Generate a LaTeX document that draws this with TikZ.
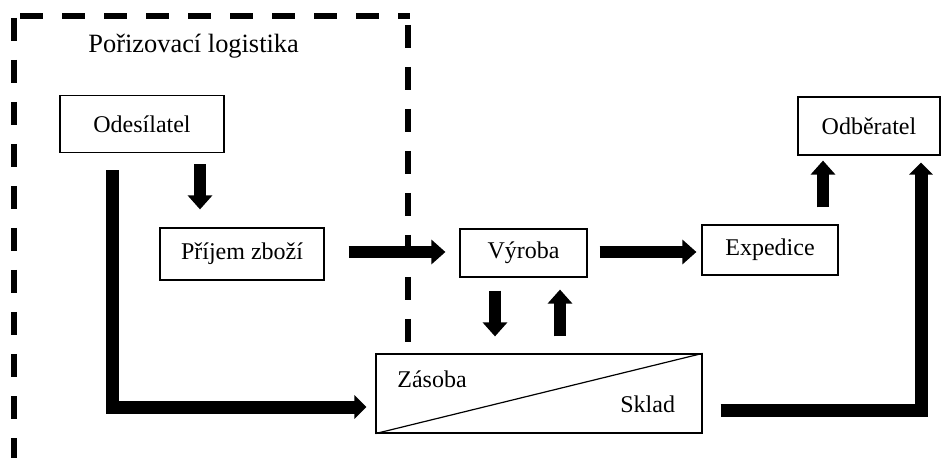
\documentclass[tikz,border=0pt]{standalone}
\usepackage{fontspec}
\setmainfont{Liberation Serif}
\usetikzlibrary{arrows.meta}
\begin{document}
\begin{tikzpicture}[x=0.5pt,y=-0.5pt,
  txt/.style={font=\fontsize{12pt}{14pt}\selectfont},
  box/.style={draw,line width=0.6pt,inner sep=0pt,txt},
  lbl/.style={inner sep=0pt,txt},
  arr/.style={line width=6pt,-{Triangle[width=12pt,length=7pt]}},
  bigarr/.style={line width=6.5pt,line join=miter,-{Triangle[width=11.5pt,length=6pt]}},
  frame/.style={line width=2.8pt,dash pattern=on 11.5pt off 9.5pt}]
\useasboundingbox (0,0) rectangle (944,460);

% dashed frame
\draw[frame] (14,18) -- (14,458);
\draw[frame] (20,16) -- (410,16);
\draw[frame] (408,25) -- (408,345);
\node[lbl,anchor=base west,font=\fontsize{13.2pt}{15pt}\selectfont] (title) at (88,53) {Pořizovací logistika};

% boxes
\node[box,minimum width=82pt,minimum height=28.5pt] (odes) at (142,124) {Odesílatel};
\node[box,minimum width=82pt,minimum height=26pt] (prijem) at (242,254) {Příjem zboží};
\node[box,minimum width=63.5pt,minimum height=24pt] (vyroba) at (523.5,253) {Výroba};
\node[box,minimum width=68pt,minimum height=25pt] (exped) at (770,250) {Expedice};
\node[box,minimum width=71pt,minimum height=29pt] (odber) at (869,126) {Odběratel};
\node[box,minimum width=163pt,minimum height=39.5pt] (zasoba) at (539,393.5) {};
\draw[line width=0.6pt] (zasoba.south west) -- (zasoba.north east);
\node[lbl,anchor=base west] (zlab) at (397,387) {Zásoba};
\node[lbl,anchor=base west] (slab) at (620,413) {Sklad};

% helper coordinates
\coordinate (xa) at (200,0);
\coordinate (ya) at (0,252);
\coordinate (xd) at (495,0);
\coordinate (xu) at (560,0);
\coordinate (xe) at (823,0);
\coordinate (k1) at (112,407);
\coordinate (k2) at (921,410);

% arrows
\draw[arr,shorten <=5.5pt,shorten >=9pt] (odes.south -| xa) -- (prijem.north -| xa);
\draw[arr,shorten <=12pt,shorten >=7pt] (prijem.east |- ya) -- (vyroba.west |- ya);
\draw[arr,shorten <=6pt,shorten >=2.5pt] (vyroba.east |- ya) -- (exped.west |- ya);
\draw[arr,shorten <=6.5pt,shorten >=8.5pt] (vyroba.south -| xd) -- (zasoba.north -| xd);
\draw[arr,shorten <=8.5pt,shorten >=6pt] (zasoba.north -| xu) -- (vyroba.south -| xu);
\draw[arr,shorten <=8.5pt,shorten >=2.5pt] (exped.north -| xe) -- (odber.south -| xe);
\draw[bigarr,shorten <=8.5pt,shorten >=4.5pt] (odes.south -| k1) -- (k1) -- (zasoba.west |- k1);
\draw[bigarr,shorten <=9pt,shorten >=3.5pt] (zasoba.east |- k2) -- (k2) -- (odber.south -| k2);
\end{tikzpicture}
\end{document}
